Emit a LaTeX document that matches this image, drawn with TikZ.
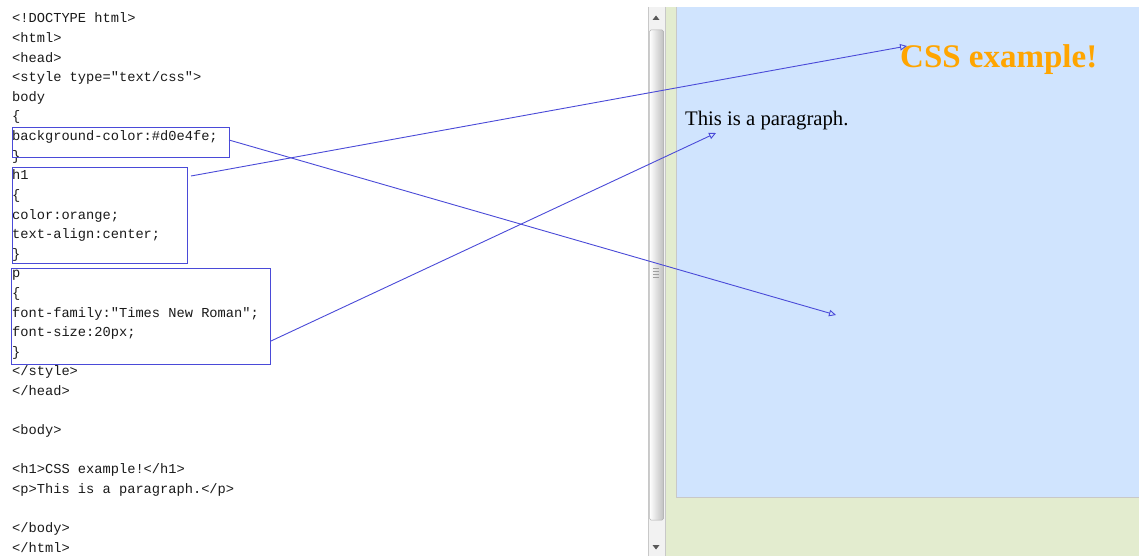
\documentclass[tikz,border=0pt]{standalone}
\usepackage{fontspec}
\setmonofont{Liberation Mono}
\setmainfont{Liberation Serif}
\usetikzlibrary{arrows.meta}
\definecolor{pagebg}{HTML}{D0E4FE}
\definecolor{greenbg}{HTML}{E3ECCF}
\definecolor{linkblue}{HTML}{4A4AD8}
\definecolor{cssorange}{HTML}{FFA500}
\definecolor{codeink}{HTML}{1A1A1A}
\definecolor{trackgray}{HTML}{F2F2F2}
\definecolor{edgegray}{HTML}{C8C8C8}
\tikzset{
  codeline/.style={anchor=base west, inner sep=0pt, font=\fontsize{13.7}{15}\selectfont\ttfamily, text=codeink},
  selbox/.style={draw=linkblue, line width=0.9pt, inner sep=0pt},
  link/.style={draw=linkblue, line width=0.9pt, -{Triangle[open,length=7pt,width=6.5pt]}},
}
\begin{document}
\begin{tikzpicture}[x=1pt,y=-1pt]
\useasboundingbox (0,0) rectangle (1139,556);
\fill[white] (0,0) rectangle (1139,556);
% right pane
\fill[greenbg] (665,7) rectangle (1139,556);
\fill[pagebg] (676,7) rectangle (1139,497);
\draw[edgegray, line width=0.8pt] (676,7) -- (676,497) -- (1139,497);
% scrollbar
\fill[trackgray] (648,7) rectangle (665,556);
\draw[edgegray, line width=0.6pt] (648,7) -- (648,556);
\draw[edgegray, line width=0.6pt] (665,7) -- (665,556);
\shade[left color=white, right color=gray!50, draw=gray!60, rounded corners=1.5pt, line width=0.5pt] (649.5,30) rectangle (663.5,520);
\fill[gray!70!black] (652.5,20) -- (659.5,20) -- (656,15.5) -- cycle;
\fill[gray!70!black] (652.5,545) -- (659.5,545) -- (656,549.5) -- cycle;
\foreach \gy in {268,271,274,277} \draw[gray!75, line width=1pt] (653,\gy) -- (659,\gy);
% code lines
\node[codeline] (c0) at (12,23.0) {<!DOCTYPE html>};
\node[codeline] (c1) at (12,42.6) {<html>};
\node[codeline] (c2) at (12,62.2) {<head>};
\node[codeline] (c3) at (12,81.8) {<style type="text/css">};
\node[codeline] (c4) at (12,101.4) {body};
\node[codeline] (c5) at (12,121.0) {\{};
\node[codeline] (c6) at (12,140.6) {background-color:\#d0e4fe;};
\node[codeline] (c7) at (12,160.2) {\}};
\node[codeline] (c8) at (12,179.8) {h1};
\node[codeline] (c9) at (12,199.4) {\{};
\node[codeline] (c10) at (12,219.0) {color:orange;};
\node[codeline] (c11) at (12,238.6) {text-align:center;};
\node[codeline] (c12) at (12,258.2) {\}};
\node[codeline] (c13) at (12,277.8) {p};
\node[codeline] (c14) at (12,297.4) {\{};
\node[codeline] (c15) at (12,317.0) {font-family:"Times New Roman";};
\node[codeline] (c16) at (12,336.6) {font-size:20px;};
\node[codeline] (c17) at (12,356.2) {\}};
\node[codeline] (c18) at (12,375.8) {</style>};
\node[codeline] (c19) at (12,395.4) {</head>};
\node[codeline] (c21) at (12,434.6) {<body>};
\node[codeline] (c23) at (12,473.8) {<h1>CSS example!</h1>};
\node[codeline] (c24) at (12,493.4) {<p>This is a paragraph.</p>};
\node[codeline] (c26) at (12,532.6) {</body>};
\node[codeline] (c27) at (12,552.2) {</html>};
% rendered page text
\node[anchor=base west, inner sep=0pt, font=\fontsize{33}{36}\selectfont\bfseries, text=cssorange] (h1) at (900,68) {CSS example!};
\node[anchor=base west, inner sep=0pt, font=\fontsize{20.7}{24}\selectfont, text=black] (para) at (685,126) {This is a paragraph.};
% selection boxes
\node[selbox, minimum width=217pt, minimum height=30pt] (b1) at (120.5,142) {};
\node[selbox, minimum width=175pt, minimum height=96pt] (b2) at (99.5,215) {};
\node[selbox, minimum width=259pt, minimum height=96pt] (b3) at (140.5,316) {};
% connector ends
\coordinate (s1) at (229,140);
\coordinate (s2) at (191,176);
\coordinate (s3) at (271,341);
\coordinate (t1) at (836,315);
\coordinate (t2) at (907,46);
\coordinate (t3) at (716,133);
\draw[link] (s1) -- (t1);
\draw[link] (s2) -- (t2);
\draw[link] (s3) -- (t3);
\end{tikzpicture}
\end{document}
